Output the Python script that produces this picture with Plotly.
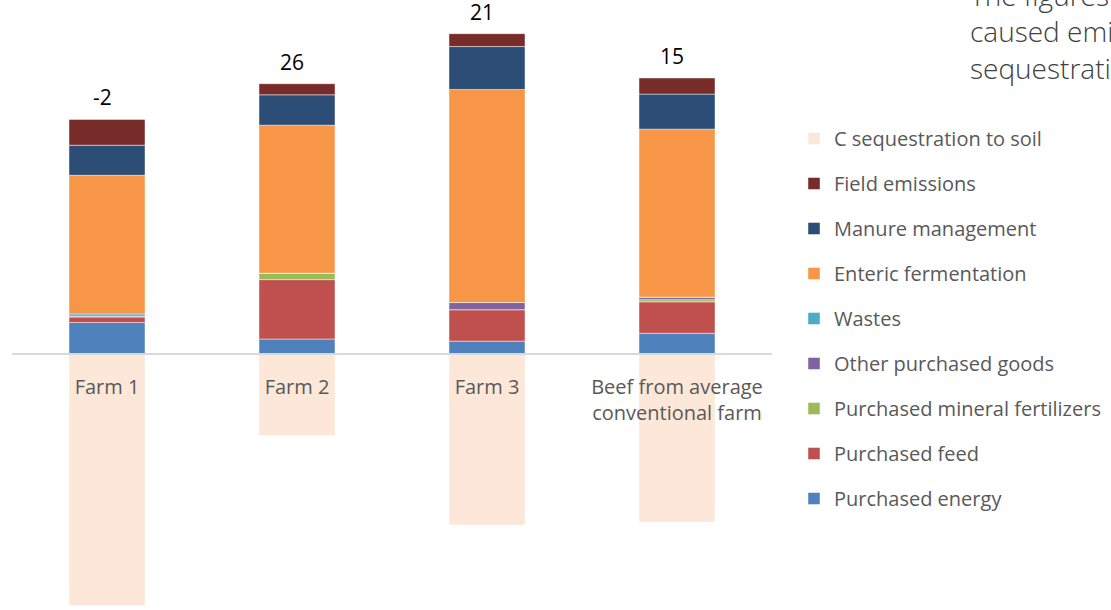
import plotly.graph_objects as go

categories = ["Farm 1", "Farm 2", "Farm 3", "Beef from average<br>conventional farm"]

purchased_energy = [4.4, 2.1, 1.8, 2.9]
purchased_feed = [0.8, 8.3, 4.4, 4.4]
purchased_fertilizers = [0.0, 0.9, 0.0, 0.3]
other_goods = [0.1, 0.0, 1.0, 0.3]
wastes = [0.3, 0.0, 0.0, 0.05]
enteric = [19.4, 20.7, 29.8, 23.5]
manure = [4.2, 4.25, 6.0, 4.9]
field = [3.6, 1.55, 1.8, 2.25]
c_sequestration = [-35.2, -11.4, -23.9, -23.5]

series = [
    ("Purchased energy", purchased_energy, "#4F81BD"),
    ("Purchased feed", purchased_feed, "#C0504D"),
    ("Purchased mineral fertilizers", purchased_fertilizers, "#9BBB59"),
    ("Other purchased goods", other_goods, "#8064A2"),
    ("Wastes", wastes, "#4BACC6"),
    ("Enteric fermentation", enteric, "#F79646"),
    ("Manure management", manure, "#2C4D75"),
    ("Field emissions", field, "#772C2A"),
    ("C sequestration to soil", c_sequestration, "#FDE7D8"),
]

W, H = 1111, 610
FONT = "Open Sans"

fig = go.Figure()
n = len(series)
for i, (name, vals, col) in enumerate(series):
    fig.add_trace(go.Bar(
        x=categories, y=vals, name=name, legendgroup=f"g{i}",
        legendrank=(n - i) * 10,
        marker=dict(color=col, line=dict(color="rgba(255,255,255,0.45)", width=1)),
        width=0.4,
    ))

pos_tops = [sum(s[1][k] for s in series if s[1][k] > 0) for k in range(len(categories))]
totals = [sum(s[1][k] for s in series) for k in range(len(categories))]

for k, cat in enumerate(categories):
    fig.add_annotation(
        x=cat, y=pos_tops[k], xref="x", yref="y",
        text=str(int(round(totals[k]))), showarrow=False,
        yanchor="bottom", yshift=6, xshift=-5,
        font=dict(family=FONT, size=21, color="#000000"),
    )

fig.add_annotation(
    x=968 / W, y=1 + 26 / H, xref="paper", yref="paper",
    xanchor="left", yanchor="top", align="left", showarrow=False,
    text="The figures show net emissions:<br>caused emissions minus soil carbon<br>sequestration",
    font=dict(family="Open Sans", size=28, color="#404040", weight=300),
)

ymax = 354 / 7.15
ymin = -(H - 354) / 7.15

fig.update_layout(
    width=W, height=H,
    margin=dict(l=0, r=0, t=0, b=0),
    paper_bgcolor="white", plot_bgcolor="white",
    barmode="relative",
    bargap=0.6,
    showlegend=True,
    legend=dict(
        x=794 / W, y=1 - 119 / H, xanchor="left", yanchor="top",
        traceorder="grouped", tracegroupgap=16,
        font=dict(family=FONT, size=20, color="#595959"),
        bgcolor="rgba(0,0,0,0)",
    ),
    xaxis=dict(
        domain=[12 / W, 772 / W],
        anchor="free", position=(H - 354) / H,
        showline=True, linecolor="#D9D9D9", linewidth=2,
        showgrid=False, ticks="",
        tickfont=dict(family=FONT, size=20, color="#595959"),
        ticklabelstandoff=15,
    ),
    yaxis=dict(
        range=[ymin, ymax], visible=False, showgrid=False, zeroline=False,
    ),
)

fig.write_html("out.html")
